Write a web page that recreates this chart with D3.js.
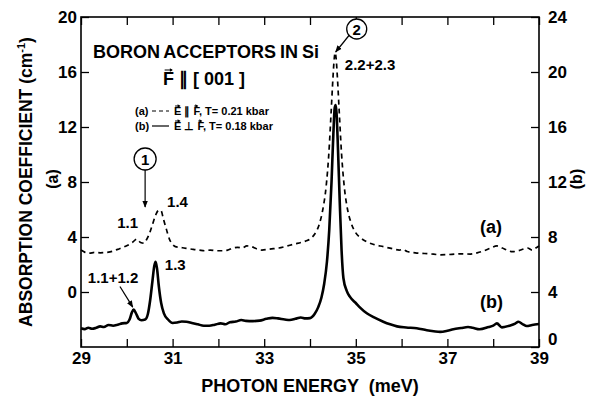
<!DOCTYPE html>
<html>
<head>
<meta charset="utf-8">
<script src="https://cdn.jsdelivr.net/npm/d3@7"></script>
<style>
  html, body { margin: 0; padding: 0; background: #fff; }
  svg { display: block; font-family: "Liberation Sans", Arial, Helvetica, sans-serif; font-weight: bold; }
</style>
</head>
<body>
<svg id="chart" width="590" height="399"></svg>
<script>
// Photon energy (meV) and absorption coefficient (cm^-1) for the two spectra
// (a) E parallel F, T = 0.21 kbar  (left axis)
const energyA = [29.00,29.08,29.18,29.30,29.42,29.55,29.68,29.80,29.92,30.02,30.12,30.22,30.30,30.37,30.43,30.50,30.56,30.63,30.70,30.75,30.80,30.87,30.93,30.99,31.06,31.15,31.25,31.35,31.45,31.58,31.70,31.82,31.95,32.08,32.20,32.32,32.42,32.52,32.62,32.72,32.83,32.95,33.08,33.20,33.32,33.45,33.56,33.68,33.80,33.90,34.00,34.10,34.20,34.28,34.35,34.41,34.46,34.50,34.53,34.55,34.57,34.60,34.64,34.69,34.75,34.82,34.90,35.00,35.12,35.24,35.40,35.60,35.80,35.95,36.03,36.12,36.30,36.50,36.70,36.85,37.00,37.15,37.30,37.50,37.65,37.80,37.95,38.08,38.20,38.30,38.42,38.55,38.68,38.75,38.85,38.93,39.00];
const alphaA  = [3.05,2.90,2.82,2.88,2.85,2.88,2.95,3.10,3.25,3.40,3.60,3.85,3.60,3.55,3.80,4.30,4.90,5.60,5.95,5.90,5.30,4.50,3.85,3.50,3.30,3.25,3.20,3.15,3.10,3.05,3.00,3.05,3.00,3.00,3.05,3.20,3.25,3.20,3.35,3.30,3.15,3.05,3.10,3.15,3.20,3.30,3.40,3.50,3.60,3.70,3.85,4.20,4.90,6.00,7.60,10.0,13.0,15.5,17.0,17.4,17.0,15.5,13.0,10.0,7.60,6.00,5.00,4.30,3.90,3.65,3.45,3.30,3.15,3.05,3.10,2.95,2.85,2.80,2.75,2.70,2.72,2.75,2.78,2.76,2.85,3.00,3.20,3.35,3.20,3.05,2.93,3.00,3.15,3.20,3.05,3.20,3.35];

// (b) E perpendicular F, T = 0.18 kbar  (right axis)
const energyB = [29.00,29.08,29.16,29.24,29.32,29.42,29.50,29.60,29.70,29.80,29.90,30.00,30.06,30.11,30.15,30.20,30.26,30.32,30.40,30.46,30.51,30.56,30.60,30.63,30.66,30.70,30.75,30.81,30.90,31.00,31.10,31.20,31.30,31.42,31.55,31.68,31.80,31.92,32.05,32.15,32.25,32.38,32.50,32.60,32.75,32.90,33.05,33.18,33.30,33.45,33.56,33.68,33.80,33.90,34.00,34.10,34.18,34.25,34.31,34.37,34.42,34.47,34.51,34.54,34.56,34.58,34.61,34.65,34.69,34.73,34.80,34.87,35.00,35.10,35.24,35.40,35.60,35.75,35.90,36.10,36.33,36.55,36.70,36.84,37.00,37.13,37.30,37.45,37.55,37.70,37.90,38.00,38.08,38.19,38.35,38.48,38.55,38.65,38.73,38.85,39.00];
const alphaB  = [1.36,1.30,1.40,1.33,1.38,1.50,1.45,1.60,1.55,1.62,1.72,1.75,2.00,2.50,2.72,2.45,2.05,1.95,2.00,2.40,3.40,4.80,5.90,6.20,5.70,4.40,3.20,2.45,2.00,1.75,1.78,1.85,1.84,1.75,1.65,1.55,1.55,1.62,1.72,1.65,1.80,1.85,1.96,1.90,1.88,1.92,2.05,2.12,2.08,2.00,1.96,2.05,2.15,2.08,2.10,2.40,2.90,3.60,4.60,6.20,8.50,12.0,15.5,17.4,17.6,17.0,14.5,10.5,7.00,5.00,4.10,3.66,3.20,2.85,2.45,2.15,1.84,1.65,1.50,1.42,1.36,1.22,1.15,1.10,1.18,1.29,1.38,1.45,1.40,1.29,1.45,1.55,1.72,1.43,1.55,1.70,1.84,1.65,1.53,1.60,1.67];

// Axis ticks and labels
const xTickValues     = [29,30,31,32,33,34,35,36,37,38,39];
const xTickLabels     = [29,31,33,35,37,39];
const leftTickValues  = [0,4,8,12,16,20];
const rightTickValues = [0,4,8,12,16,20,24];

const svg = d3.select("#chart");
const margin = { left: 81, right: 51, top: 17, bottom: 52 };
const W = 590, H = 399;

const x  = d3.scaleLinear().domain([29, 39]).range([margin.left, W - margin.right]);
const yL = d3.scaleLinear().domain([-4, 20]).range([H - margin.bottom, margin.top]);
const yR = d3.scaleLinear().domain([0, 24]).range([H - margin.bottom, margin.top]);

const x0 = x.range()[0], x1 = x.range()[1];
const yTop = yL.range()[1], yBot = yL.range()[0];

// arrowhead marker
const defs = svg.append("defs");
defs.append("marker")
  .attr("id", "head").attr("viewBox", "0 0 10 10")
  .attr("refX", 9).attr("refY", 5)
  .attr("markerWidth", 7).attr("markerHeight", 7)
  .attr("markerUnits", "userSpaceOnUse")
  .attr("orient", "auto")
  .append("path").attr("d", "M0,1 L10,5 L0,9 Z").attr("fill", "#000");

// axes with inward ticks
const tickLen = 8;
const tickFont = 17;
const fmtX = d => xTickLabels.includes(d) ? d : "";

svg.append("g").attr("transform", `translate(0,${yBot})`)
  .call(d3.axisBottom(x).tickValues(xTickValues).tickSize(-tickLen).tickPadding(5).tickFormat(fmtX))
  .call(g => g.selectAll("text").attr("font-size", tickFont).attr("font-weight", "bold").attr("font-family", null));

svg.append("g").attr("transform", `translate(0,${yTop})`)
  .call(d3.axisTop(x).tickValues(xTickValues).tickSize(-tickLen).tickFormat(""));

svg.append("g").attr("transform", `translate(${x0},0)`)
  .call(d3.axisLeft(yL).tickValues(leftTickValues).tickSize(-tickLen).tickPadding(4))
  .call(g => g.selectAll("text").attr("font-size", tickFont).attr("font-weight", "bold").attr("font-family", null));

svg.append("g").attr("transform", `translate(${x1},0)`)
  .call(d3.axisRight(yR).tickValues(rightTickValues).tickSize(-tickLen).tickPadding(9))
  .call(g => g.selectAll("text").attr("font-size", tickFont).attr("font-weight", "bold").attr("font-family", null))
  .call(g => g.selectAll(".tick").filter(d => d === 0).select("text").attr("dy", "-0.15em"));

svg.selectAll(".domain").remove();
svg.selectAll(".tick line").attr("stroke", "#000").attr("stroke-width", 1.3);

// frame
svg.append("rect")
  .attr("x", x0).attr("y", yTop).attr("width", x1 - x0).attr("height", yBot - yTop)
  .attr("fill", "none").attr("stroke", "#000").attr("stroke-width", 1.6);

// spectra
const dataA = energyA.map((e, i) => [e, alphaA[i]]);
const dataB = energyB.map((e, i) => [e, alphaB[i]]);

svg.append("path").datum(dataA)
  .attr("d", d3.line().x(d => x(d[0])).y(d => yL(d[1])).curve(d3.curveMonotoneX))
  .attr("fill", "none").attr("stroke", "#000").attr("stroke-width", 1.7)
  .attr("stroke-dasharray", "5,4");

svg.append("path").datum(dataB)
  .attr("d", d3.line().x(d => x(d[0])).y(d => yR(d[1])).curve(d3.curveMonotoneX))
  .attr("fill", "none").attr("stroke", "#000").attr("stroke-width", 2.6)
  .attr("stroke-linejoin", "round");

// axis titles
svg.append("text")
  .attr("transform", `translate(${x0 - 49},${(yTop + yBot) / 2 + 0}) rotate(-90)`)
  .attr("text-anchor", "middle").attr("font-size", 17.5)
  .text("ABSORPTION COEFFICIENT (cm")
  .call(t => t.append("tspan").attr("font-size", 11).attr("dy", -7).text("-1"))
  .call(t => t.append("tspan").attr("dy", 7).text(")"));

svg.append("text")
  .attr("transform", `translate(${x0 - 23},${(yTop + yBot) / 2 - 3}) rotate(-90)`)
  .attr("text-anchor", "middle").attr("font-size", 16).text("(a)");

svg.append("text")
  .attr("transform", `translate(${x1 + 43},${(yTop + yBot) / 2 - 3}) rotate(-90)`)
  .attr("text-anchor", "middle").attr("font-size", 16).text("(b)");

svg.append("text")
  .attr("x", (x0 + x1) / 2).attr("y", 392)
  .attr("text-anchor", "middle").attr("font-size", 18)
  .attr("xml:space", "preserve")
  .text("PHOTON ENERGY  (meV)");

// small vector arrows above chosen characters of a text element
function vecArrows(textSel, indices) {
  const node = textSel.node();
  indices.forEach(i => {
    const b = node.getExtentOfChar(i);
    const yA = b.y + 1;
    const xa = b.x + b.width * 0.15, xb = b.x + b.width * 0.9;
    svg.append("line").attr("x1", xa).attr("x2", xb - 1).attr("y1", yA).attr("y2", yA)
      .attr("stroke", "#000").attr("stroke-width", 1);
    svg.append("path")
      .attr("d", `M${xb},${yA} L${xb - 3},${yA - 1.8} L${xb - 3},${yA + 1.8} Z`).attr("fill", "#000");
  });
}

// heading
svg.append("text").attr("x", 93).attr("y", 58).attr("font-size", 18)
  .attr("word-spacing", -1).text("BORON ACCEPTORS IN Si");
const head2 = svg.append("text").attr("x", 163).attr("y", 85).attr("font-size", 18)
  .text("F \u2225 [ 001 ]");
vecArrows(head2, [0]);

// legend
const legend = [
  { key: "(a)", dash: "4,3", text: "E \u2225 F, T= 0.21 kbar", y: 115 },
  { key: "(b)", dash: null,  text: "E \u22A5 F, T= 0.18 kbar", y: 130 }
];
legend.forEach(l => {
  svg.append("text").attr("x", 135).attr("y", l.y).attr("font-size", 11).text(l.key);
  svg.append("line").attr("x1", 152).attr("x2", 169).attr("y1", l.y - 4).attr("y2", l.y - 4)
    .attr("stroke", "#000").attr("stroke-width", 1.2)
    .attr("stroke-dasharray", l.dash);
  const t = svg.append("text").attr("x", 174).attr("y", l.y).attr("font-size", 11).text(l.text);
  vecArrows(t, [0, 4]);
});

// peak labels
const peakLabels = [
  { t: "1.1",     e: 29.79, v: 4.65, axis: "L", size: 15 },
  { t: "1.4",     e: 30.88, v: 6.18, axis: "L", size: 15 },
  { t: "1.3",     e: 30.83, v: 5.60, axis: "R", size: 15 },
  { t: "1.1+1.2", e: 29.15, v: 4.65, axis: "R", size: 15 },
  { t: "2.2+2.3", e: 34.76, v: 16.15, axis: "L", size: 15 },
  { t: "(a)",     e: 37.71, v: 4.30, axis: "L", size: 18 },
  { t: "(b)",     e: 37.71, v: 2.85, axis: "R", size: 18 }
];
peakLabels.forEach(p => {
  svg.append("text").attr("x", x(p.e)).attr("y", p.axis === "L" ? yL(p.v) : yR(p.v))
    .attr("font-size", p.size).text(p.t);
});

// circled markers with arrows
function marker(cx, cy, r, label, ax1, ay1, ax2, ay2) {
  svg.append("circle").attr("cx", cx).attr("cy", cy).attr("r", r)
    .attr("fill", "#fff").attr("stroke", "#000").attr("stroke-width", 1.3);
  svg.append("text").attr("x", cx).attr("y", cy + 5.5).attr("text-anchor", "middle")
    .attr("font-size", 15).text(label);
  svg.append("line").attr("x1", ax1).attr("y1", ay1).attr("x2", ax2).attr("y2", ay2)
    .attr("stroke", "#000").attr("stroke-width", 1.2).attr("marker-end", "url(#head)");
}
marker(x(30.4), 159, 11, "1", x(30.4), 170, x(30.4), 207);
marker(x(35.02), 29, 10, "2", x(34.86), 35, x(34.56), 52);

// arrow to the 1.1+1.2 line
svg.append("line").attr("x1", x(29.85)).attr("y1", yR(4.4)).attr("x2", x(30.13)).attr("y2", yR(2.9))
  .attr("stroke", "#000").attr("stroke-width", 1.2).attr("marker-end", "url(#head)");
</script>
</body>
</html>
